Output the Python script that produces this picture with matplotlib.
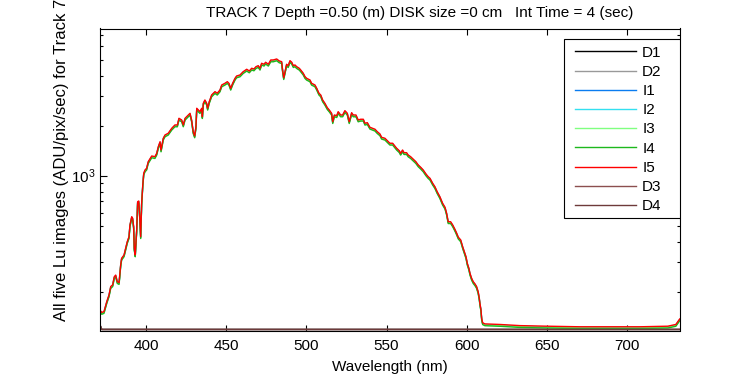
import matplotlib
matplotlib.use('Agg')
import matplotlib.pyplot as plt
from matplotlib.patches import Rectangle
from matplotlib.ticker import MultipleLocator, LogLocator, NullFormatter

plt.rcParams['font.family'] = ['Liberation Sans', 'DejaVu Sans']
plt.rcParams['mathtext.fontset'] = 'custom'
plt.rcParams['mathtext.rm'] = 'Liberation Sans'
plt.rcParams['font.size'] = 11

# light spectrum (I5, the top trace)
wavelength = [
    371.1, 372.2, 373.6, 375.3, 376.7, 377.8, 379.0, 380.0, 380.9, 381.9,
    383.0, 384.0, 384.6, 386.1, 387.1, 388.1, 389.2, 389.8, 390.9, 391.5,
    392.1, 392.5, 393.1, 394.0, 394.6, 395.3, 395.9, 396.5, 397.1, 397.8,
    398.4, 399.2, 400.2, 401.2, 403.4, 405.4, 406.5, 407.5, 408.6, 409.2,
    410.6, 411.7, 413.7, 415.9, 417.9, 419.4, 420.4, 422.1, 423.1, 424.2,
    426.2, 427.3, 428.3, 429.3, 430.2, 431.0, 431.5, 432.5, 433.5, 434.6,
    435.0, 435.6, 436.6, 437.7, 438.3, 439.3, 440.8, 442.9, 444.3, 446.0,
    447.1, 449.1, 450.6, 451.6, 452.7, 453.9, 455.4, 456.4, 458.5, 460.5,
    462.7, 464.3, 465.8, 467.2, 468.5, 469.9, 471.0, 472.0, 473.5, 474.5,
    476.2, 477.7, 479.3, 481.4, 483.0, 484.5, 485.1, 485.8, 486.6, 487.6,
    488.6, 489.7, 490.8, 491.8, 492.8, 493.9, 495.5, 496.4, 498.0, 499.1,
    500.1, 502.2, 503.2, 505.3, 506.4, 507.8, 508.9, 510.1, 511.5, 513.0,
    514.2, 515.7, 516.4, 517.4, 518.9, 519.8, 521.3, 522.6, 524.0, 525.5,
    526.7, 528.2, 529.2, 530.9, 532.3, 533.8, 535.5, 536.5, 538.0, 539.6,
    541.3, 542.8, 544.2, 545.9, 546.9, 549.0, 550.7, 552.1, 553.8, 555.2,
    556.3, 557.9, 558.8, 560.0, 560.9, 562.5, 563.5, 565.0, 566.7, 568.3,
    569.8, 571.3, 572.9, 574.6, 576.0, 577.1, 578.8, 580.2, 581.6, 583.3,
    585.0, 586.5, 587.5, 588.5, 590.0, 591.3, 592.7, 593.8, 594.8, 596.3,
    597.5, 598.5, 599.6, 600.4, 601.4, 602.1, 603.1, 604.1, 605.2, 606.2,
    607.2, 607.9, 608.3, 608.9, 609.4, 610.0, 611.4, 620.8, 633.3, 649.9,
    670.7, 691.5, 708.2, 725.6, 730.6, 733.0,
]
light_counts = [
    155, 150, 152, 174, 191, 215, 220, 246, 252, 230,
    227, 290, 318, 333, 365, 400, 429, 505, 566, 554,
    493, 365, 333, 471, 697, 704, 566, 429, 682, 879,
    1034, 1082, 1108, 1214, 1314, 1302, 1364, 1495, 1602, 1428,
    1680, 1759, 1801, 1930, 2021, 2021, 2217, 2165, 2021, 2217,
    2321, 2376, 2165, 1841, 1735, 1974, 2547, 2488, 2430, 2547,
    2267, 2730, 2858, 2730, 2547, 2791, 3063, 3207, 3137, 3283,
    3518, 3602, 3683, 3602, 3361, 3602, 3861, 3986, 4042, 4231,
    4375, 4272, 4436, 4393, 4535, 4599, 4436, 4755, 4690, 4822,
    4690, 4977, 4977, 5047, 4909, 4862, 4332, 3894, 4231, 4690,
    4599, 4930, 4822, 4599, 4645, 4535, 4436, 4332, 4139, 3948,
    3861, 3771, 3602, 3518, 3361, 3137, 3063, 2858, 2730, 2568,
    2488, 2376, 2115, 2321, 2298, 2430, 2321, 2321, 2464, 2376,
    2115, 2396, 2321, 2321, 2165, 2187, 2187, 2069, 2086, 1957,
    1930, 1904, 1841, 1783, 1703, 1680, 1618, 1568, 1568, 1510,
    1463, 1415, 1364, 1428, 1376, 1376, 1332, 1302, 1256, 1214,
    1160, 1124, 1082, 1024, 986, 965, 900, 858, 801, 747,
    682, 645, 594, 528, 528, 505, 475, 450, 426, 410,
    374, 349, 325, 297, 277, 258, 241, 230, 223, 215,
    200, 183, 170, 157, 138, 130, 128, 127, 125, 124,
    123, 123, 123, 124, 127, 137,
]

# the five light images sit almost on top of each other
light_names = ['I1', 'I2', 'I3', 'I4', 'I5']
light_gain = [0.99, 0.99, 0.985, 0.975, 1.0]

# dark images, flat along the bottom
dark_wavelength = [371.1, 372.2, 733.0]
dark_counts = [126, 118.5, 118.5]

colors = {
    'D1': '#000000', 'D2': '#999999',
    'I1': '#0a7cf0', 'I2': '#33e0f0', 'I3': '#80ff80', 'I4': '#1db81d', 'I5': '#ff0000',
    'D3': '#8c4f4f', 'D4': '#6e3a3a',
}
order = ['D1', 'D2', 'I1', 'I2', 'I3', 'I4', 'I5', 'D3', 'D4']

fig = plt.figure(figsize=(7.5, 3.75), dpi=100)
ax = fig.add_axes([100 / 750, 1 - 330.5 / 375, 580 / 750, 302 / 375])

for name in order:
    if name in light_names:
        g = light_gain[light_names.index(name)]
        ax.plot(wavelength, [c * g for c in light_counts], color=colors[name], lw=1.0, label=name)
    else:
        ax.plot(dark_wavelength, dark_counts, color=colors[name], lw=1.0, label=name)

ax.set_yscale('log')
ax.set_xlim(371.1, 733.2)
ax.set_ylim(116.8, 7700)
ax.xaxis.set_major_locator(MultipleLocator(50))
ax.yaxis.set_major_locator(LogLocator(base=10))
ax.yaxis.set_minor_locator(LogLocator(base=10, subs=range(2, 10)))
ax.yaxis.set_minor_formatter(NullFormatter())
ax.tick_params(which='both', direction='in', top=True, right=True, width=0.8)
ax.tick_params(axis='x', which='major', length=4, pad=6)
ax.tick_params(axis='y', which='major', length=5)
ax.tick_params(axis='y', which='minor', length=2.5)
for s in ax.spines.values():
    s.set_linewidth(0.8)

ax.set_xlabel('Wavelength (nm)', labelpad=5)
ax.set_ylabel('All five Lu images (ADU/pix/sec) for Track 7', fontsize=12)
ax.yaxis.set_label_coords(-0.0526, 0.566)
fig.text(420 / 750, 1 - 13 / 375, 'TRACK 7 Depth =0.50 (m) DISK size =0 cm   Int Time = 4 (sec)',
         ha='center', va='center')

# legend box drawn separately so its size matches the original
ax.add_patch(Rectangle((0.8005, 0.3715), 0.1995, 0.5927, transform=ax.transAxes,
                       facecolor='white', edgecolor='black', lw=0.8, zorder=5))
leg = ax.legend(loc='upper left', bbox_to_anchor=(0.819, 0.943), frameon=False,
                borderpad=0, borderaxespad=0, handlelength=4.0, handletextpad=0.4,
                labelspacing=0.34)
leg.set_zorder(6)

fig.savefig('out.png', dpi=100)
